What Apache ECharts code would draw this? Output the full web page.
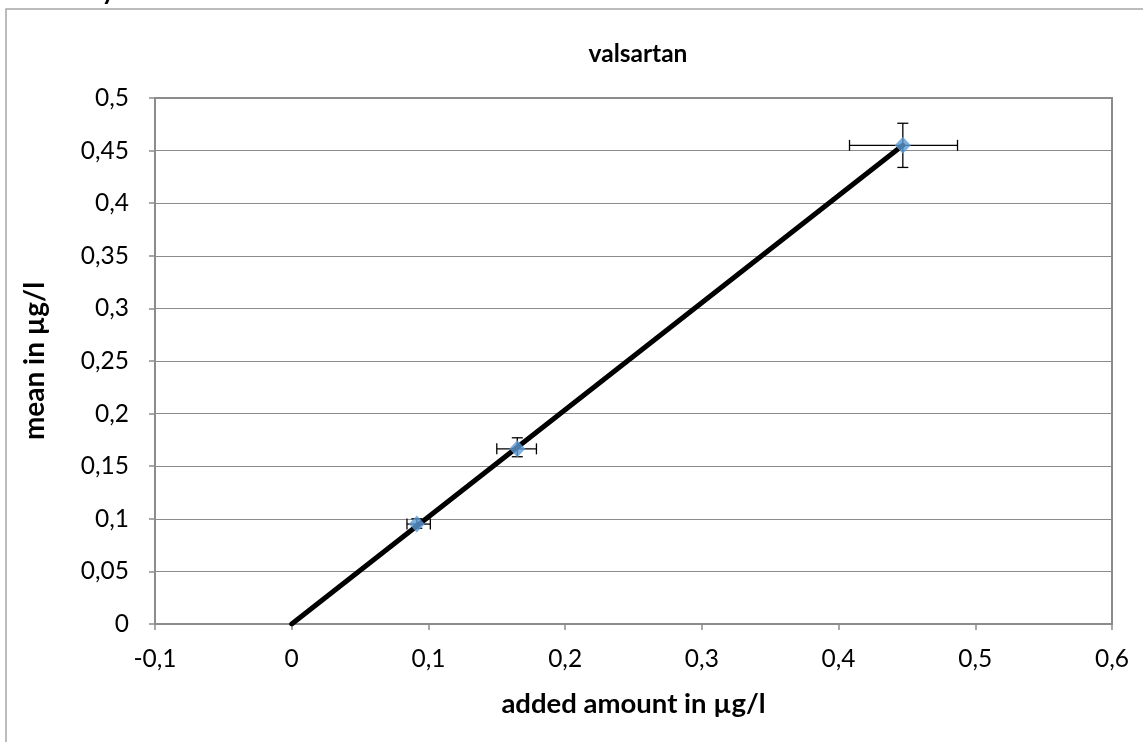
<!DOCTYPE html>
<html>
<head>
<meta charset="utf-8">
<script src="https://cdn.jsdelivr.net/npm/echarts@6/dist/echarts.min.js"></script>
<style>html,body{margin:0;padding:0;background:#fff;}#c{width:1143px;height:742px;}</style>
</head>
<body>
<div id="c"></div>
<script>
const chartTitle = 'valsartan';
const topText = 'Recovery and mean content';
const xTitle = 'added amount in µg/l';
const yTitle = 'mean in µg/l';
const addedAmount = [0.0915, 0.165, 0.447];
const meanValue = [0.095, 0.1665, 0.455];
const xErrLow = [0.0843, 0.150, 0.408];
const xErrHigh = [0.1014, 0.179, 0.487];
const yErrLow = [0.091, 0.159, 0.434];
const yErrHigh = [0.100, 0.177, 0.476];
const lineX = [0, 0.447];
const lineY = [0, 0.455];

const fmt = v => String(Math.round(v * 100) / 100).replace('.', ',');
const font = 'Lato';

const chart = echarts.init(document.getElementById('c'));
const errData = addedAmount.map((x, i) => [x, meanValue[i], xErrLow[i], xErrHigh[i], yErrLow[i], yErrHigh[i]]);

chart.setOption({
  animation: false,
  backgroundColor: '#fff',
  title: {
    text: chartTitle, left: 633, top: 37, textAlign: 'center',
    textStyle: { fontFamily: font, fontSize: 24.5, fontWeight: 'bold', color: '#000' }
  },
  graphic: [
    { type: 'rect', shape: { x: 6, y: 9, width: 1200, height: 800 }, style: { fill: 'none', stroke: '#a6a6a6', lineWidth: 1.5 }, silent: true },
    { type: 'text', x: 8, y: -21, style: { text: topText, fontFamily: font, fontSize: 26, fontWeight: 'bold', fill: '#000' } }
  ],
  grid: { left: 155, right: 31, top: 98, bottom: 118, show: true, borderColor: '#8c8c8c', borderWidth: 2 },
  xAxis: {
    type: 'value', min: -0.1, max: 0.6, interval: 0.1,
    name: xTitle, nameLocation: 'middle', nameGap: 66,
    nameTextStyle: { fontFamily: font, fontSize: 27.5, fontWeight: 'bold', color: '#000' },
    axisLine: { show: true, onZero: false, lineStyle: { color: '#8c8c8c', width: 2 } },
    axisTick: { show: true, inside: false, length: 6, lineStyle: { color: '#8c8c8c', width: 1.5 } },
    axisLabel: { formatter: fmt, fontFamily: font, fontSize: 24.5, color: '#000', margin: 23 },
    splitLine: { show: false }
  },
  yAxis: [{
    type: 'value', min: 0, max: 0.5, interval: 0.05,
    name: yTitle, nameLocation: 'middle', nameGap: 106, nameRotate: 90,
    nameTextStyle: { fontFamily: font, fontSize: 28, fontWeight: 'bold', color: '#000' },
    axisLine: { show: false },
    axisTick: { show: false },
    axisLabel: { formatter: fmt, fontFamily: font, fontSize: 24.5, color: '#000', margin: 26 },
    splitLine: { show: true, lineStyle: { color: '#8c8c8c', width: 1.2 } }
  }, {
    type: 'value', min: 0, max: 0.5, interval: 0.05, position: 'left',
    axisLine: { show: true, onZero: true, lineStyle: { color: '#8c8c8c', width: 1.5 } },
    axisTick: { show: true, inside: false, length: 6, lineStyle: { color: '#8c8c8c', width: 1.5 } },
    axisLabel: { show: false },
    splitLine: { show: false }
  }],
  series: [
    {
      type: 'custom', z: 2,
      data: errData,
      renderItem: function (params, api) {
        const c = api.coord([api.value(0), api.value(1)]);
        const xl = api.coord([api.value(2), api.value(1)]);
        const xh = api.coord([api.value(3), api.value(1)]);
        const yl = api.coord([api.value(0), api.value(4)]);
        const yh = api.coord([api.value(0), api.value(5)]);
        const cap = 5.5;
        const st = { stroke: '#000', lineWidth: 1.3 };
        const L = (x1, y1, x2, y2) => ({ type: 'line', shape: { x1, y1, x2, y2 }, style: st });
        return {
          type: 'group',
          children: [
            L(xl[0], c[1], xh[0], c[1]),
            L(xl[0], c[1] - cap, xl[0], c[1] + cap),
            L(xh[0], c[1] - cap, xh[0], c[1] + cap),
            L(c[0], yl[1], c[0], yh[1]),
            L(c[0] - cap, yl[1], c[0] + cap, yl[1]),
            L(c[0] - cap, yh[1], c[0] + cap, yh[1])
          ]
        };
      }
    },
    {
      type: 'line', z: 3,
      data: lineX.map((x, i) => [x, lineY[i]]),
      showSymbol: false, symbol: 'none',
      lineStyle: { color: '#000', width: 5, cap: 'round' }
    },
    {
      type: 'scatter', z: 4,
      data: addedAmount.map((x, i) => [x, meanValue[i]]),
      symbol: 'diamond', symbolSize: [16, 17],
      itemStyle: { color: '#5b9bd5' }
    }
  ]
});
</script>
</body>
</html>
